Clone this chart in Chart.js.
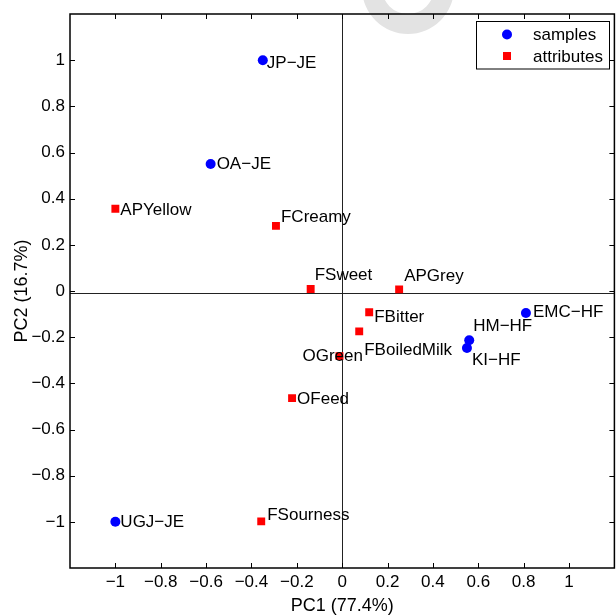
<!DOCTYPE html>
<html>
<head>
<meta charset="utf-8">
<script src="https://cdn.jsdelivr.net/npm/chart.js@4/dist/chart.umd.min.js"></script>
<style>
  html, body { margin: 0; padding: 0; background: #fff; overflow: hidden; }
  canvas { display: block; }
</style>
</head>
<body>
<canvas id="pcaChart" width="620" height="615"></canvas>
<script>
// samples (blue circles)
const sampleNames = ['JP\u2212JE', 'OA\u2212JE', 'UGJ\u2212JE', 'EMC\u2212HF', 'HM\u2212HF', 'KI\u2212HF'];
const sampleX = [-0.35, -0.58, -1.0, 0.81, 0.56, 0.55];
const sampleY = [1.0, 0.55, -1.0, -0.095, -0.213, -0.247];

// attributes (red squares)
const attrNames = ['APYellow', 'FCreamy', 'FSweet', 'APGrey', 'FBitter', 'FBoiledMilk', 'OGreen', 'OFeed', 'FSourness'];
const attrX = [-1.0, -0.292, -0.139, 0.251, 0.119, 0.075, -0.012, -0.221, -0.357];
const attrY = [0.356, 0.282, 0.009, 0.007, -0.092, -0.175, -0.282, -0.464, -0.998];

const axisTicks = [-1, -0.8, -0.6, -0.4, -0.2, 0, 0.2, 0.4, 0.6, 0.8, 1];
const xTitle = 'PC1 (77.4%)';
const yTitle = 'PC2 (16.7%)';
const hLineY = -0.008;

// label placement (pixel offsets from the marker: left of text, vertical middle)
const labelOffsets = {
  'JP\u2212JE': [4, 3], 'OA\u2212JE': [6, 0], 'UGJ\u2212JE': [5, 0],
  'EMC\u2212HF': [7, -1], 'HM\u2212HF': [4, -14], 'KI\u2212HF': [5, 12],
  'APYellow': [5, 1], 'FCreamy': [5, -9], 'FSweet': [4, -14], 'APGrey': [5, -13],
  'FBitter': [5, 5], 'FBoiledMilk': [5, 19], 'OGreen': [-37, 0], 'OFeed': [5, 1],
  'FSourness': [6, -6]
};

const FONT = '"Liberation Sans", Arial, Helvetica, sans-serif';

function fmt(v) {
  if (Math.abs(v) > 1.05) return '';
  const r = Math.round(v * 10) / 10;
  return r < 0 ? '\u2212' + String(-r) : String(r);
}

const toPoints = (xs, ys) => xs.map((x, i) => ({ x: x, y: ys[i] }));

const frame = {
  id: 'frame',
  beforeDraw(chart) {
    // faint watermark ring at the top
    const ctx = chart.ctx;
    ctx.save();
    ctx.fillStyle = '#e3e3e3';
    ctx.beginPath();
    ctx.arc(408, -12, 46, 0, Math.PI * 2);
    ctx.arc(408, -12, 26, 0, Math.PI * 2, true);
    ctx.fill();
    ctx.restore();
  },
  beforeDatasetsDraw(chart) {
    const { ctx, chartArea: a, scales: { x, y } } = chart;
    ctx.save();
    ctx.strokeStyle = '#222';
    ctx.lineWidth = 1;
    // zero lines
    const x0 = Math.round(x.getPixelForValue(0)) + 0.5;
    const y0 = Math.round(y.getPixelForValue(hLineY)) + 0.5;
    ctx.beginPath();
    ctx.moveTo(x0, a.top); ctx.lineTo(x0, a.bottom);
    ctx.moveTo(a.left, y0); ctx.lineTo(a.right, y0);
    ctx.stroke();
    // frame
    ctx.strokeStyle = '#000';
    ctx.lineWidth = 1.5;
    ctx.strokeRect(a.left, a.top, a.right - a.left, a.bottom - a.top);
    // inward ticks
    ctx.lineWidth = 1;
    ctx.beginPath();
    axisTicks.forEach(v => {
      const px = Math.round(x.getPixelForValue(v)) + 0.5;
      ctx.moveTo(px, a.bottom); ctx.lineTo(px, a.bottom - 5);
      ctx.moveTo(px, a.top); ctx.lineTo(px, a.top + 5);
      const py = Math.round(y.getPixelForValue(v)) + 0.5;
      ctx.moveTo(a.left, py); ctx.lineTo(a.left + 5, py);
      ctx.moveTo(a.right, py); ctx.lineTo(a.right - 5, py);
    });
    ctx.stroke();
    ctx.restore();
  },
  afterDatasetsDraw(chart) {
    const ctx = chart.ctx;
    ctx.save();
    ctx.fillStyle = '#000';
    ctx.font = '17px ' + FONT;
    ctx.textBaseline = 'middle';
    ctx.textAlign = 'left';
    chart.data.datasets.forEach((ds, di) => {
      const meta = chart.getDatasetMeta(di);
      meta.data.forEach((pt, i) => {
        const name = ds.names[i];
        const off = labelOffsets[name] || [5, 0];
        ctx.fillText(name, pt.x + off[0], pt.y + off[1]);
      });
    });
    ctx.restore();
  },
  afterDraw(chart) {
    // legend box
    const ctx = chart.ctx;
    ctx.save();
    ctx.fillStyle = '#fff';
    ctx.strokeStyle = '#000';
    ctx.lineWidth = 1;
    ctx.fillRect(476.5, 21.5, 133, 47.5);
    ctx.strokeRect(476.5, 21.5, 133, 47.5);
    ctx.font = '17px ' + FONT;
    ctx.textBaseline = 'middle';
    const ds = chart.data.datasets;
    ctx.fillStyle = ds[0].backgroundColor;
    ctx.beginPath();
    ctx.arc(507, 34.5, 5, 0, Math.PI * 2);
    ctx.fill();
    ctx.fillStyle = ds[1].backgroundColor;
    ctx.fillRect(503, 52, 8, 8);
    ctx.fillStyle = '#000';
    ctx.fillText(ds[0].label, 533, 35);
    ctx.fillText(ds[1].label, 533, 57);
    ctx.restore();
  }
};

new Chart(document.getElementById('pcaChart'), {
  type: 'scatter',
  data: {
    datasets: [{
      label: 'samples',
      names: sampleNames,
      data: toPoints(sampleX, sampleY),
      pointStyle: 'circle',
      pointRadius: 5,
      backgroundColor: '#0000ff',
      borderColor: '#0000ff',
      borderWidth: 0
    }, {
      label: 'attributes',
      names: attrNames,
      data: toPoints(attrX, attrY),
      pointStyle: 'rect',
      pointRadius: 5.6,
      backgroundColor: '#ff0000',
      borderColor: '#ff0000',
      borderWidth: 0
    }]
  },
  options: {
    responsive: false,
    animation: false,
    layout: { padding: { top: 14, right: 3, left: 0, bottom: 0 } },
    plugins: {
      legend: { display: false },
      tooltip: { enabled: false }
    },
    scales: {
      x: {
        type: 'linear',
        min: -1.2, max: 1.2,
        grid: { display: false },
        border: { display: false },
        ticks: { stepSize: 0.2, padding: -4, color: '#000', font: { size: 17, family: FONT }, callback: fmt, maxRotation: 0, autoSkip: false },
        title: { display: true, text: xTitle, color: '#000', font: { size: 18, family: FONT }, padding: { top: 0, bottom: -2 } },
        afterFit(scale) { scale.height = 47; }
      },
      y: {
        type: 'linear',
        min: -1.2, max: 1.2,
        grid: { display: false },
        border: { display: false },
        ticks: { stepSize: 0.2, padding: -3, color: '#000', font: { size: 17, family: FONT }, callback: fmt, autoSkip: false },
        title: { display: true, text: yTitle, color: '#000', font: { size: 18, family: FONT }, padding: { top: 11, bottom: 0 } },
        afterFit(scale) { scale.width = 70; }
      }
    }
  },
  plugins: [frame]
});
</script>
</body>
</html>
